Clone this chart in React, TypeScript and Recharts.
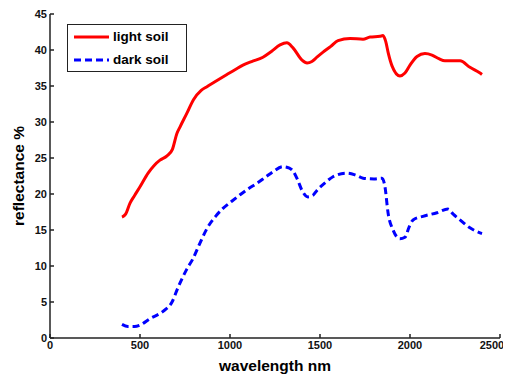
import { LineChart, Line, XAxis, YAxis, Legend, Label } from 'recharts';

const lightWavelength = [
  400, 420, 444, 470, 500, 545, 580, 611, 650, 680, 705, 722, 760, 797, 840, 872, 930, 983, 1030,
  1072, 1120, 1183, 1230, 1278, 1316, 1350, 1400, 1428, 1455, 1483, 1517, 1560, 1600, 1667, 1739,
  1778, 1833, 1850, 1865, 1880, 1900, 1944, 1972, 2000, 2039, 2083, 2122, 2160, 2194, 2278, 2333,
  2389, 2400,
];
const lightReflectance = [
  16.8, 17.2, 18.7, 19.8, 21.0, 22.9, 24.0, 24.7, 25.3, 26.2, 28.4, 29.3, 31.2, 33.1, 34.4, 34.9,
  35.8, 36.6, 37.3, 37.9, 38.4, 39.0, 39.8, 40.7, 41.0, 40.3, 38.6, 38.2, 38.4, 39.0, 39.7, 40.5,
  41.3, 41.6, 41.5, 41.8, 41.9, 42.0, 41.2, 39.5, 37.8, 36.4, 36.8, 37.9, 39.1, 39.5, 39.3, 38.8,
  38.5, 38.5, 37.6, 36.8, 36.6,
];

const darkWavelength = [
  400, 433, 470, 500, 556, 628, 678, 711, 761, 794, 830, 872, 920, 961, 1010, 1056, 1100, 1150,
  1200, 1239, 1294, 1330, 1350, 1375, 1400, 1433, 1460, 1483, 1530, 1572, 1650, 1700, 1739, 1800,
  1844, 1861, 1878, 1906, 1944, 1972, 1995, 2017, 2072, 2150, 2211, 2240, 2278, 2333, 2389, 2400,
];
const darkReflectance = [
  1.9, 1.6, 1.6, 1.8, 2.7, 3.7, 5.0, 7.0, 9.6, 11.0, 13.0, 15.2, 16.9, 18.0, 19.0, 19.9, 20.7,
  21.5, 22.4, 23.1, 23.8, 23.6, 23.2, 22.0, 20.5, 19.6, 19.8, 20.5, 21.6, 22.4, 22.9, 22.6, 22.2,
  22.1, 22.2, 21.0, 17.4, 15.0, 13.8, 14.0, 15.4, 16.4, 16.9, 17.4, 17.9, 17.2, 16.4, 15.3, 14.6,
  14.5,
];

const xTicks = [0, 500, 1000, 1500, 2000, 2500];
const yTicks = [0, 5, 10, 15, 20, 25, 30, 35, 40, 45];

const lightData = lightWavelength.map((w, i) => ({ wl: w, value: lightReflectance[i] }));
const darkData = darkWavelength.map((w, i) => ({ wl: w, value: darkReflectance[i] }));

const FONT = '"Liberation Sans", Arial, sans-serif';
const AXIS = '#222';

function LegendBox() {
  const items = [
    { label: 'light soil', color: '#ff0000', dash: undefined },
    { label: 'dark soil', color: '#0000ff', dash: '7 4' },
  ];
  return (
    <div
      style={{
        border: '1.5px solid #222',
        background: '#fff',
        width: 112,
        padding: '0 0 0 6px',
        fontFamily: FONT,
        fontWeight: 'bold',
        fontSize: 13.5,
        color: '#000',
        lineHeight: '23px',
        textAlign: 'left',
      }}
    >
      {items.map((it) => (
        <div key={it.label} style={{ display: 'flex', alignItems: 'center' }}>
          <svg width={35} height={10} style={{ marginRight: 4 }}>
            <line x1={0} y1={5} x2={35} y2={5} stroke={it.color} strokeWidth={3} strokeDasharray={it.dash} />
          </svg>
          <span>{it.label}</span>
        </div>
      ))}
    </div>
  );
}

// bottom tick labels; the last one is nudged left so it stays inside the frame
function XTick(props: any) {
  const { x, y, payload } = props;
  const dx = payload.value === 2500 ? -3 : 0;
  return (
    <text
      x={x + dx}
      y={y}
      dy="0.71em"
      textAnchor="middle"
      fill="#111"
      fontSize={11}
      fontWeight="bold"
      fontFamily={FONT}
    >
      {payload.value}
    </text>
  );
}

export default function App() {
  const tickStyle = { fill: '#111', fontSize: 11, fontWeight: 'bold', fontFamily: FONT };
  const labelStyle = { fill: '#000', fontSize: 15.5, fontWeight: 'bold', fontFamily: FONT };
  return (
    <div style={{ width: 503, height: 366 }}>
      <LineChart width={503} height={366} margin={{ top: 6, right: 11, bottom: 0, left: 0 }}>
        <XAxis
          xAxisId="bottom"
          dataKey="wl"
          type="number"
          domain={[0, 2500]}
          ticks={xTicks}
          allowDataOverflow
          orientation="bottom"
          height={36}
          stroke={AXIS}
          strokeWidth={1.5}
          tickSize={-4}
          tickMargin={7}
          tick={<XTick />}
        >
          <Label value="wavelength nm" position="insideBottom" offset={3} style={labelStyle} />
        </XAxis>
        <XAxis
          xAxisId="top"
          dataKey="wl"
          type="number"
          domain={[0, 2500]}
          ticks={xTicks}
          orientation="top"
          height={0}
          stroke={AXIS}
          strokeWidth={1.5}
          tickSize={-4}
          tickFormatter={() => ''}
        />
        <YAxis
          yAxisId="left"
          type="number"
          domain={[0, 45]}
          ticks={yTicks}
          orientation="left"
          width={42}
          stroke={AXIS}
          strokeWidth={1.5}
          tickSize={-4}
          tickMargin={7}
          tick={tickStyle}
        >
          <Label
            value="reflectance %"
            angle={-90}
            position="insideLeft"
            offset={10}
            style={{ ...labelStyle, textAnchor: 'middle' }}
          />
        </YAxis>
        <YAxis
          yAxisId="right"
          type="number"
          domain={[0, 45]}
          ticks={yTicks}
          orientation="right"
          width={0}
          stroke={AXIS}
          strokeWidth={1.5}
          tickSize={-4}
          tickFormatter={() => ''}
        />
        <Legend
          verticalAlign="middle"
          align="center"
          layout="vertical"
          wrapperStyle={{ left: 59, top: 16, width: 'auto', height: 'auto' }}
          content={() => <LegendBox />}
        />
        <Line
          xAxisId="bottom"
          yAxisId="left"
          data={lightData}
          dataKey="value"
          name="light soil"
          type="monotone"
          stroke="#ff0000"
          strokeWidth={3}
          dot={false}
          isAnimationActive={false}
        />
        <Line
          xAxisId="bottom"
          yAxisId="left"
          data={darkData}
          dataKey="value"
          name="dark soil"
          type="monotone"
          stroke="#0000ff"
          strokeWidth={3}
          strokeDasharray="7 4"
          dot={false}
          isAnimationActive={false}
        />
      </LineChart>
    </div>
  );
}
